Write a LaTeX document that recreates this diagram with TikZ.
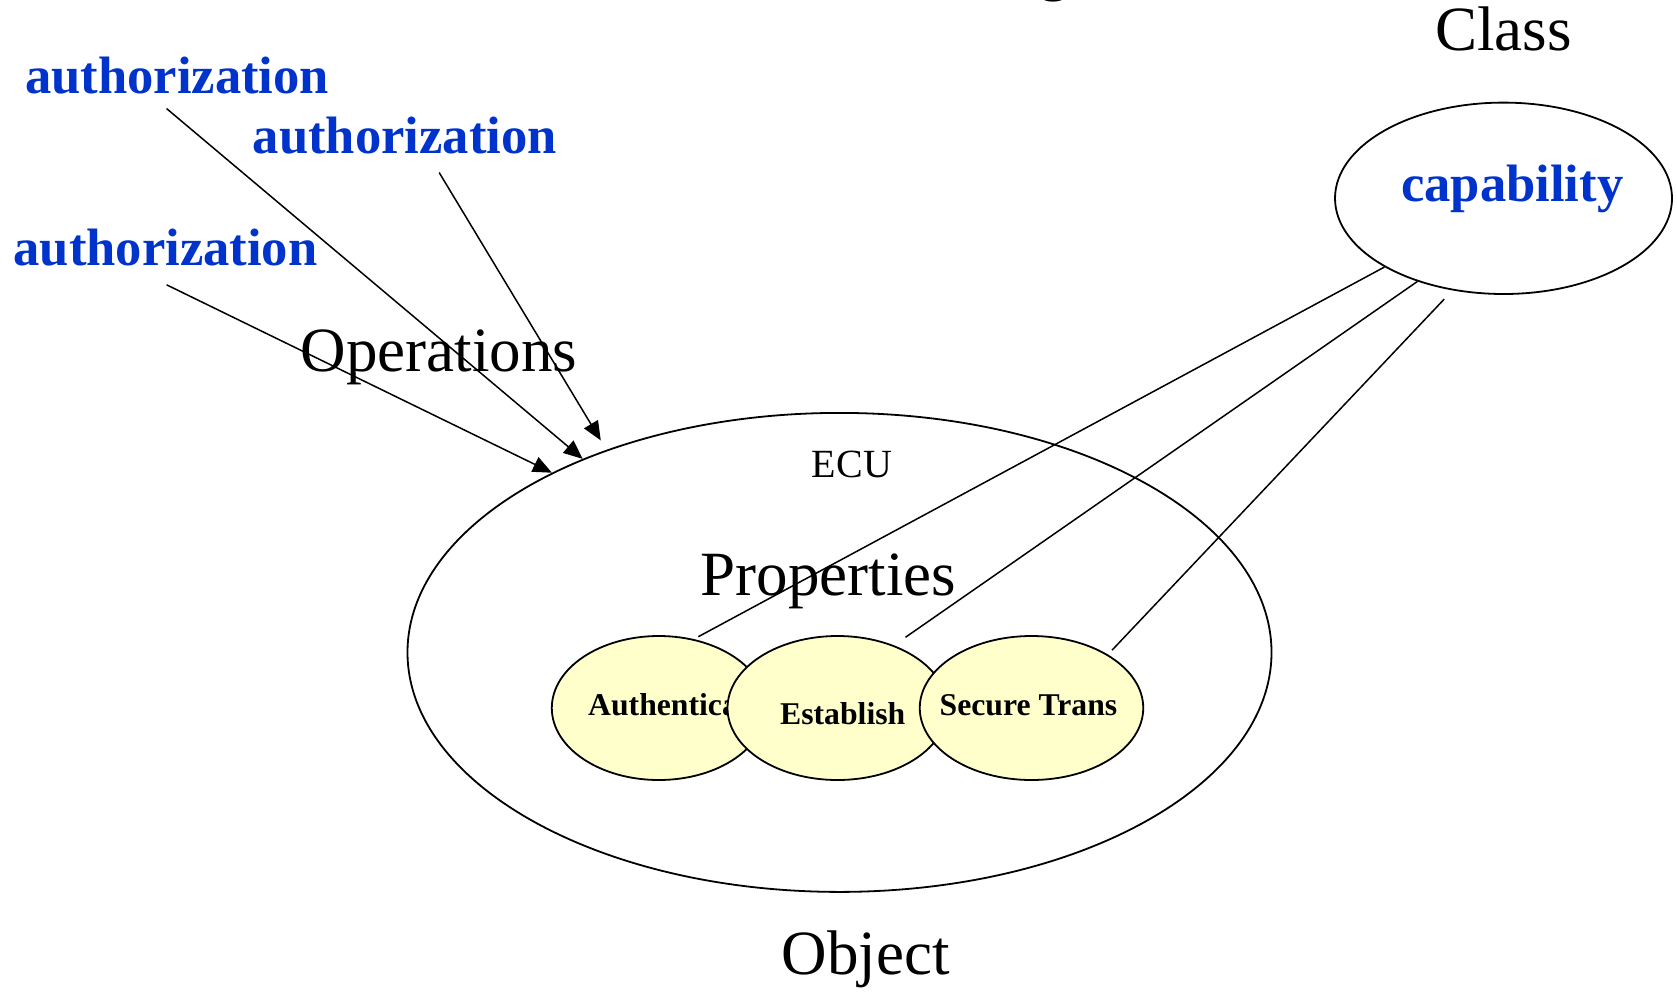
\documentclass[tikz,border=0pt]{standalone}
\usepackage{fontspec}
\setmainfont{Liberation Serif}
\usetikzlibrary{arrows.meta,calc,shapes.geometric}
\definecolor{authblue}{HTML}{0033CC}
\definecolor{propfill}{HTML}{FFFFCC}
\begin{document}
\begin{tikzpicture}[x=1pt,y=-1pt,
  bigtext/.style={inner sep=0pt,anchor=base west,font=\fontsize{63}{70}\selectfont},
  bluetext/.style={inner sep=0pt,anchor=base west,text=authblue,font=\fontsize{52.6}{60}\selectfont\bfseries},
  proptext/.style={inner sep=0pt,anchor=base west,font=\fontsize{31.7}{36}\selectfont\bfseries},
  bigell/.style={ellipse,draw=black,line width=1.8pt,inner sep=0pt},
  propell/.style={ellipse,draw=black,line width=1.8pt,fill=propfill,minimum height=144pt,inner sep=0pt},
  conn/.style={draw=black,line width=1.5pt},
  arr/.style={conn,-{Triangle[length=19pt,width=16pt]}}]
\useasboundingbox (0,0) rectangle (1677,993);

% partially visible title glyph
\node[font=\fontsize{63}{70}\selectfont,inner sep=0pt,anchor=base] (title) at (1054,-11.7) {g};

% object ellipse
\node[bigell,minimum width=864pt,minimum height=479pt] (obj) at (839.5,652.4) {};
\node[bigtext] (objlabel) at (781.7,974) {Object};
\node[inner sep=0pt,anchor=base west,font=\fontsize{40}{46}\selectfont] (ecu) at (811.7,477.7) {ECU};
\node[bigtext] (props) at (700.7,595.7) {Properties};
\node[bigtext] (ops) at (300.7,371.7) {Operations};

% class ellipse
\node[bigtext] (cls) at (1435,50) {Class};
\node[bigell,minimum width=337pt,minimum height=191.4pt] (cap) at (1503.5,198.3) {};
\node[bluetext] (capl) at (1401,201) {capability};

% authorization labels
\node[bluetext] (a1) at (24.9,93.3) {authorization};
\node[bluetext] (a2) at (252.6,153.3) {authorization};
\node[bluetext] (a3) at (13.4,265) {authorization};

% property ellipses
\node[propell,minimum width=214pt] (auth) at (658.8,708) {};
\node[proptext] (authl) at (588,715) {Authentica};
\node[propell,minimum width=220pt] (est) at (837.5,708) {};
\node[proptext] (estl) at (780,724) {Establish};
\node[propell,minimum width=223.5pt] (sec) at (1031.5,708) {};
\node[proptext] (secl) at (939.5,715) {Secure Trans};

% authorization arrows
\draw[arr] ($(a3.south)+(1.1,19)$) -- (obj.148.65);
\draw[arr] ($(a1.south)+(-10.5,14.4)$) -- (obj.143);
\draw[arr,shorten >=11pt] ($(a2.south)+(34.4,18.4)$) -- (obj.139.1);

% capability lines
\draw[conn,shorten >=5pt] (cap.210.5) -- (auth.63.4);
\draw[conn,shorten >=14pt] (cap.224.4) -- (est.48);
\draw[conn,shorten <=12pt,shorten >=6pt] (cap.241.2) -- (sec.35);
\end{tikzpicture}
\end{document}
